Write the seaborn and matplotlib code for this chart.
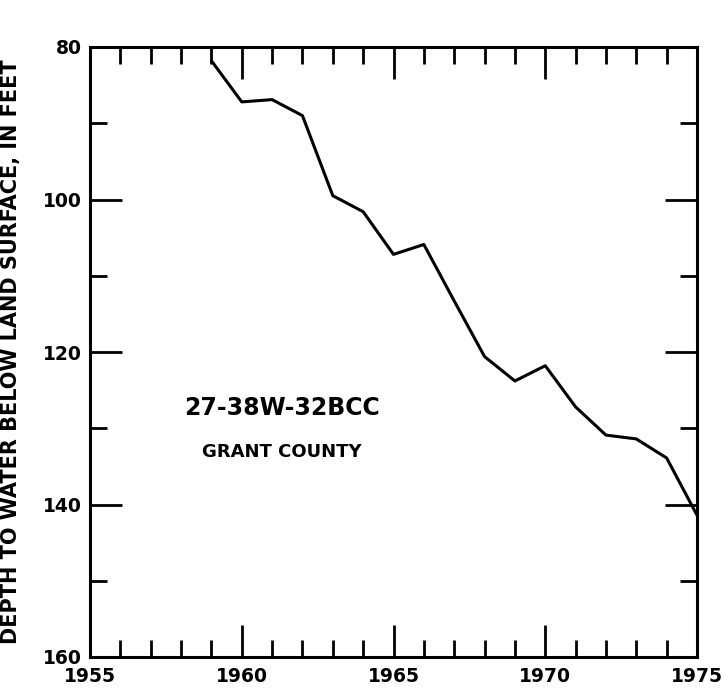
import seaborn as sns
import pandas as pd
import matplotlib.pyplot as plt
from matplotlib.ticker import MultipleLocator

# water level record
years = [1959, 1960, 1961, 1962, 1963, 1964, 1965, 1966, 1967, 1968,
         1969, 1970, 1971, 1972, 1973, 1974, 1975]
depth = [81.8, 87.2, 86.9, 89.0, 99.5, 101.6, 107.2, 105.9, 113.3, 120.6,
         123.8, 121.8, 127.2, 130.9, 131.4, 133.9, 141.4]
well_id = "27-38W-32BCC"
county = "GRANT COUNTY"

df = pd.DataFrame({"year": years, "depth": depth})

sns.set_style("ticks")
plt.rcParams["font.family"] = ["DejaVu Sans"]
plt.rcParams["text.color"] = "black"
plt.rcParams["axes.labelcolor"] = "black"
plt.rcParams["xtick.color"] = "black"
plt.rcParams["ytick.color"] = "black"

fig = plt.figure(figsize=(7.25, 6.9), dpi=100)
ax = fig.add_axes([90 / 725, 1 - 657 / 690, 607 / 725, 610 / 690])

sns.lineplot(data=df, x="year", y="depth", ax=ax, color="black", linewidth=2.2)

ax.set_xlim(1955, 1975)
ax.set_ylim(160, 80)
ax.xaxis.set_major_locator(MultipleLocator(5))
ax.xaxis.set_minor_locator(MultipleLocator(1))
ax.yaxis.set_major_locator(MultipleLocator(20))
ax.yaxis.set_minor_locator(MultipleLocator(10))

ax.tick_params(which="both", direction="in", top=True, right=True,
               width=2, color="black")
ax.tick_params(which="major", length=23, labelsize=13.5)
ax.tick_params(axis="x", which="major", pad=7)
ax.tick_params(axis="y", which="major", pad=6)
ax.tick_params(which="minor", length=12)
for lab in ax.get_xticklabels() + ax.get_yticklabels():
    lab.set_fontweight("bold")

for s in ax.spines.values():
    s.set_linewidth(2.2)
    s.set_color("black")

ax.set_xlabel("")
ax.set_ylabel("DEPTH TO WATER BELOW LAND SURFACE, IN FEET",
              fontsize=15, fontweight="bold")
ax.yaxis.set_label_coords(-0.114, 0.5)

ax.text(1961.33, 127.3, well_id, ha="center", va="center",
        fontsize=17, fontweight="bold")
ax.text(1961.33, 133.1, county, ha="center", va="center",
        fontsize=13, fontweight="bold")

fig.savefig("out.png", dpi=100, facecolor="white")
